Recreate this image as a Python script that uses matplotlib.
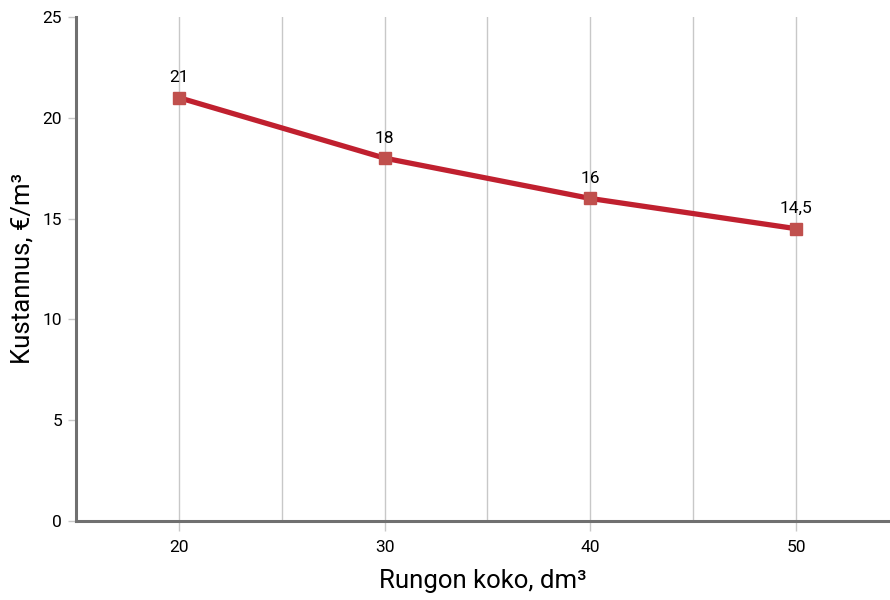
import matplotlib.pyplot as plt
from matplotlib.ticker import MultipleLocator

plt.rcParams['font.family'] = ['Roboto', 'DejaVu Sans']

koko = [20, 30, 40, 50]
kustannus = [21, 18, 16, 14.5]
nimet = ['21', '18', '16', '14,5']

fig = plt.figure(figsize=(8.9, 6), dpi=100)
ax = fig.add_axes([76 / 890, 79 / 600, 1 - 76 / 890, 504 / 600])

ax.plot(koko, kustannus, color='#c0202f', linewidth=3.8, zorder=3,
        marker='s', markersize=8, markerfacecolor='#c0504d', markeredgecolor='#c0504d')
for x, y, t in zip(koko, kustannus, nimet):
    ax.annotate(t, (x, y), xytext=(0, 9), textcoords='offset points',
                ha='center', va='bottom', fontsize=12.5)

ax.set_xlim(15, 54.57)
ax.set_ylim(0, 25)
ax.xaxis.set_major_locator(MultipleLocator(10))
ax.xaxis.set_minor_locator(MultipleLocator(5))
ax.yaxis.set_major_locator(MultipleLocator(5))
ax.grid(True, axis='x', which='both', color='#c8c8c8', linewidth=1)
ax.set_axisbelow(True)

for s in ['top', 'right']:
    ax.spines[s].set_visible(False)
for s in ['left', 'bottom']:
    ax.spines[s].set_color('#707070')
    ax.spines[s].set_linewidth(2.2)

ax.tick_params(axis='x', which='major', length=7, color='#c8c8c8', width=1, labelsize=12.5, pad=7)
ax.tick_params(axis='x', which='minor', length=0)
ax.tick_params(axis='y', length=6, color='#c8c8c8', width=1, labelsize=12.5, pad=4)

ax.set_xlabel('Rungon koko, dm³', fontsize=18.5, labelpad=10)
ax.set_ylabel('Kustannus, €/m³', fontsize=18.5, labelpad=6)

fig.savefig('out.png', dpi=100)
